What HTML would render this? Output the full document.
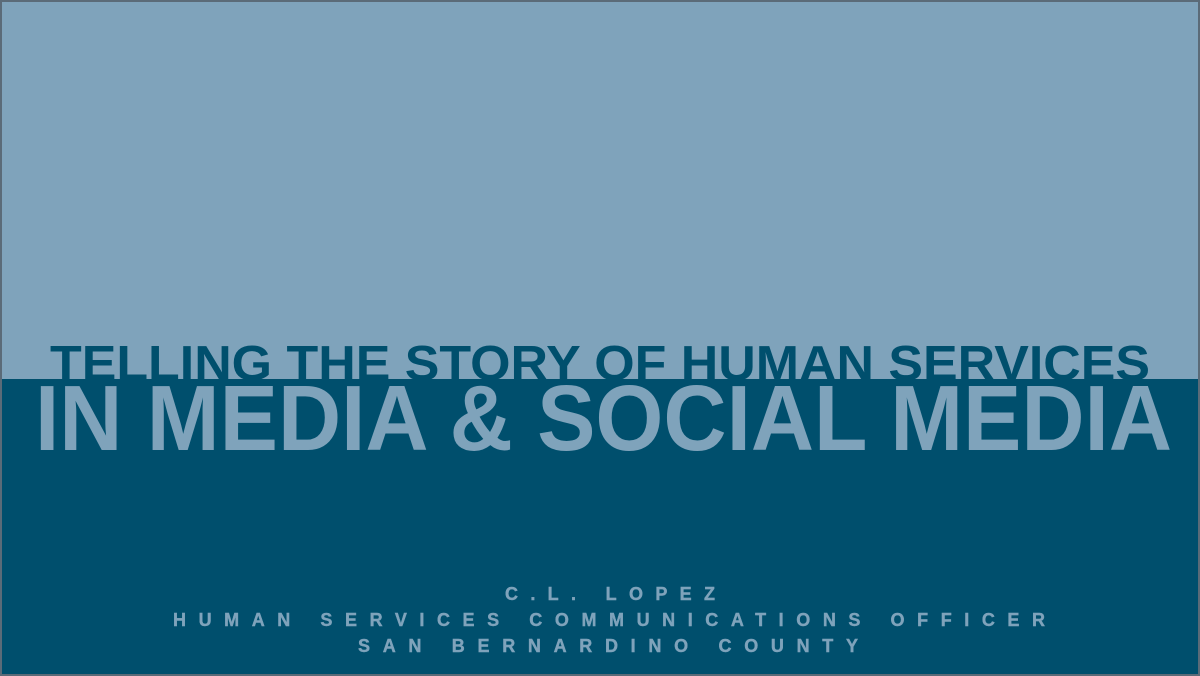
<!DOCTYPE html>
<html><head><meta charset="utf-8"><style>
html,body{margin:0;padding:0;width:1200px;height:676px;overflow:hidden;background:#7fa3bb}
svg{display:block}
text{font-family:"Liberation Sans",sans-serif;font-weight:bold}
</style></head><body>
<svg width="1200" height="676" viewBox="0 0 1200 676">
  <rect x="0" y="0" width="1200" height="379" fill="#7fa3bb"/>
  <rect x="0" y="379" width="1200" height="297" fill="#004f6d"/>
  <clipPath id="topclip"><rect x="0" y="0" width="1200" height="379"/></clipPath>
  <text x="50" y="380" font-size="49" fill="#004f6d" textLength="1100" lengthAdjust="spacingAndGlyphs" clip-path="url(#topclip)">TELLING THE STORY OF HUMAN SERVICES</text>
  <text x="35" y="450" font-size="93" fill="#7fa3bb" textLength="1137" lengthAdjust="spacingAndGlyphs">IN MEDIA &amp; SOCIAL MEDIA</text>
  <text x="505" y="600" font-size="18" fill="#7fa3bb" stroke="#7fa3bb" stroke-width="0.4" textLength="210" lengthAdjust="spacing">C.L. LOPEZ</text>
  <text x="173" y="626" font-size="18" fill="#7fa3bb" stroke="#7fa3bb" stroke-width="0.4" textLength="872" lengthAdjust="spacing">HUMAN SERVICES COMMUNICATIONS OFFICER</text>
  <text x="358" y="652" font-size="18" fill="#7fa3bb" stroke="#7fa3bb" stroke-width="0.4" textLength="500" lengthAdjust="spacing">SAN BERNARDINO COUNTY</text>
  <rect x="1" y="1" width="1198" height="674" fill="none" stroke="#5b6b78" stroke-width="2"/>
</svg>
</body></html>
